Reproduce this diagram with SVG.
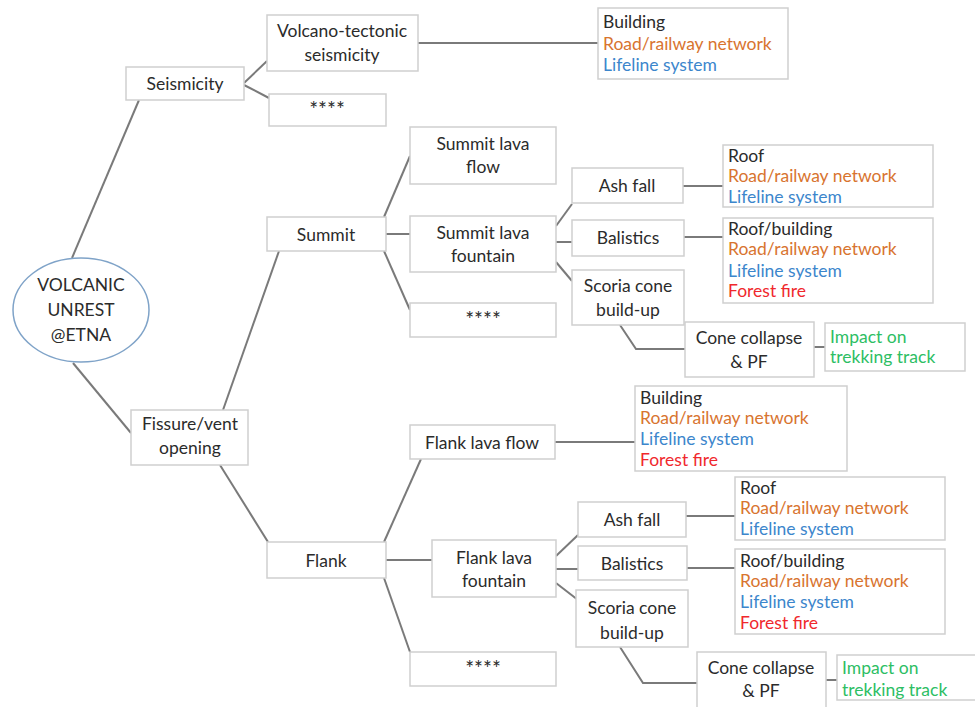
<svg xmlns="http://www.w3.org/2000/svg" width="975" height="707" viewBox="0 0 975 707">
<style>
.b{fill:#fff;stroke:#cfcfcf;stroke-width:1.5}
.t{font-family:Lato,"Open Sans",sans-serif;font-size:17.5px;fill:#2b2b2b;text-anchor:middle}
.l{font-family:Lato,"Open Sans",sans-serif;font-size:17.5px;fill:#2b2b2b}
.s{font-size:21px}
.o{fill:#D8742F}.u{fill:#3C86CC}.r{fill:#F0282D}.g{fill:#2DBE64}
#connectors line,#connectors polyline{stroke:#7a7a7a;stroke-width:2;fill:none}
</style>
<rect width="975" height="707" fill="#fff"/>
<g id="connectors">
<line x1="72" y1="258" x2="139" y2="100"/>
<line x1="73" y1="363" x2="131" y2="433"/>
<line x1="244" y1="83" x2="267" y2="61"/>
<line x1="244" y1="85" x2="269" y2="98"/>
<line x1="418" y1="43" x2="598" y2="43"/>
<line x1="223" y1="410" x2="279" y2="251"/>
<line x1="220" y1="465" x2="268" y2="542"/>
<line x1="384" y1="217" x2="410" y2="156"/>
<line x1="386" y1="234" x2="410" y2="234"/>
<line x1="384" y1="251" x2="410" y2="310"/>
<line x1="556" y1="226" x2="572" y2="204"/>
<line x1="556" y1="242" x2="572" y2="242"/>
<line x1="556" y1="262" x2="572" y2="281"/>
<line x1="683" y1="186" x2="723" y2="186"/>
<line x1="684" y1="237" x2="723" y2="237"/>
<polyline points="620,325 636,349 685,349"/>
<line x1="814" y1="347" x2="825" y2="347"/>
<line x1="555" y1="442" x2="635" y2="442"/>
<line x1="384" y1="542" x2="421" y2="459"/>
<line x1="386" y1="560" x2="432" y2="560"/>
<line x1="384" y1="578" x2="410" y2="652"/>
<line x1="556" y1="556" x2="578" y2="535"/>
<line x1="556" y1="569" x2="578" y2="569"/>
<line x1="556" y1="583" x2="578" y2="600"/>
<line x1="686" y1="516" x2="735" y2="516"/>
<line x1="687" y1="568" x2="735" y2="568"/>
<polyline points="620,647 643,683 697,683"/>
<line x1="826" y1="680" x2="837" y2="680"/>
</g>
<g id="root"><ellipse cx="81" cy="310" rx="68" ry="52" fill="#fff" stroke="#7fa3c8" stroke-width="1.5"/>
<text class="t" x="81" y="291">VOLCANIC</text><text class="t" x="81" y="316">UNREST</text><text class="t" x="81" y="341">@ETNA</text></g>
<g id="seismicity"><rect class="b" x="126" y="67" width="118" height="33"/><text class="t" x="185" y="90">Seismicity</text></g>
<g id="fissure"><rect class="b" x="131" y="410" width="117" height="55"/><text class="t" x="190" y="430">Fissure/vent</text><text class="t" x="190" y="454">opening</text></g>
<g id="summit"><rect class="b" x="267" y="217" width="119" height="34"/><text class="t" x="326" y="241">Summit</text></g>
<g id="flank"><rect class="b" x="267" y="542" width="119" height="36"/><text class="t" x="326" y="567">Flank</text></g>
<g id="vt"><rect class="b" x="267" y="15" width="151" height="56"/><text class="t" x="342" y="37">Volcano-tectonic</text><text class="t" x="342" y="61">seismicity</text></g>
<g id="s_star"><rect class="b" x="269" y="94" width="117" height="32"/><text class="t s" x="327" y="117">****</text></g>
<g id="vt_imp"><rect class="b" x="598" y="8" width="190" height="71"/><text class="l" x="603" y="28">Building</text><text class="l o" x="603" y="50">Road/railway network</text><text class="l u" x="603" y="71">Lifeline system</text></g>
<g id="slf"><rect class="b" x="410" y="127" width="146" height="57"/><text class="t" x="483" y="150">Summit lava</text><text class="t" x="483" y="173">flow</text></g>
<g id="sfount"><rect class="b" x="410" y="216" width="146" height="56"/><text class="t" x="483" y="239">Summit lava</text><text class="t" x="483" y="262">fountain</text></g>
<g id="sum_star"><rect class="b" x="410" y="303" width="146" height="34"/><text class="t s" x="483" y="327">****</text></g>
<g id="s_ash"><rect class="b" x="572" y="168" width="111" height="35"/><text class="t" x="627" y="192">Ash fall</text></g>
<g id="s_bal"><rect class="b" x="572" y="220" width="112" height="36"/><text class="t" x="628" y="244">Balistics</text></g>
<g id="s_scoria"><rect class="b" x="572" y="270" width="112" height="55"/><text class="t" x="628" y="292">Scoria cone</text><text class="t" x="628" y="316">build-up</text></g>
<g id="s_cone"><rect class="b" x="685" y="322" width="129" height="55"/><text class="t" x="749" y="344">Cone collapse</text><text class="t" x="749" y="368">&amp; PF</text></g>
<g id="s_trek"><rect class="b" x="825" y="323" width="140" height="48"/><text class="l g" x="830" y="343">Impact on</text><text class="l g" x="830" y="363">trekking track</text></g>
<g id="s_ash_imp"><rect class="b" x="723" y="145" width="210" height="62"/><text class="l" x="728" y="162">Roof</text><text class="l o" x="728" y="182">Road/railway network</text><text class="l u" x="728" y="203">Lifeline system</text></g>
<g id="s_bal_imp"><rect class="b" x="723" y="218" width="210" height="85"/><text class="l" x="728" y="235">Roof/building</text><text class="l o" x="728" y="255">Road/railway network</text><text class="l u" x="728" y="277">Lifeline system</text><text class="l r" x="728" y="297">Forest fire</text></g>
<g id="flf"><rect class="b" x="410" y="425" width="145" height="34"/><text class="t" x="482" y="449">Flank lava flow</text></g>
<g id="flf_imp"><rect class="b" x="635" y="386" width="212" height="85"/><text class="l" x="640" y="404">Building</text><text class="l o" x="640" y="424">Road/railway network</text><text class="l u" x="640" y="445">Lifeline system</text><text class="l r" x="640" y="466">Forest fire</text></g>
<g id="ffount"><rect class="b" x="432" y="540" width="124" height="57"/><text class="t" x="494" y="564">Flank lava</text><text class="t" x="494" y="587">fountain</text></g>
<g id="f_star"><rect class="b" x="410" y="652" width="146" height="34"/><text class="t s" x="483" y="676">****</text></g>
<g id="f_ash"><rect class="b" x="578" y="502" width="108" height="35"/><text class="t" x="632" y="526">Ash fall</text></g>
<g id="f_bal"><rect class="b" x="578" y="546" width="109" height="34"/><text class="t" x="632" y="570">Balistics</text></g>
<g id="f_scoria"><rect class="b" x="576" y="590" width="112" height="57"/><text class="t" x="632" y="614">Scoria cone</text><text class="t" x="632" y="639">build-up</text></g>
<g id="f_ash_imp"><rect class="b" x="735" y="477" width="210" height="63"/><text class="l" x="740" y="494">Roof</text><text class="l o" x="740" y="514">Road/railway network</text><text class="l u" x="740" y="535">Lifeline system</text></g>
<g id="f_bal_imp"><rect class="b" x="735" y="549" width="210" height="85"/><text class="l" x="740" y="567">Roof/building</text><text class="l o" x="740" y="587">Road/railway network</text><text class="l u" x="740" y="608">Lifeline system</text><text class="l r" x="740" y="629">Forest fire</text></g>
<g id="f_cone"><rect class="b" x="697" y="652" width="129" height="58"/><text class="t" x="761" y="674">Cone collapse</text><text class="t" x="761" y="697">&amp; PF</text></g>
<g id="f_trek"><rect class="b" x="837" y="655" width="140" height="45"/><text class="l g" x="842" y="674">Impact on</text><text class="l g" x="842" y="696">trekking track</text></g>
</svg>
